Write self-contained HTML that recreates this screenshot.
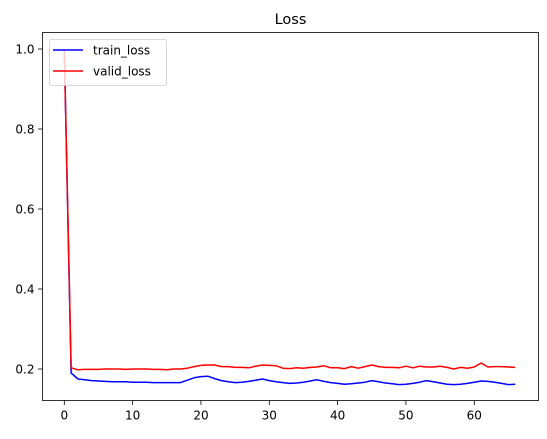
<!DOCTYPE html>
<html><head><meta charset="utf-8"><style>
body{margin:0;background:#fff;font-family:"DejaVu Sans","Liberation Sans",sans-serif;}
svg text{font-family:"DejaVu Sans","Liberation Sans",sans-serif;}
</style></head><body>
<svg width="547" height="435" xmlns="http://www.w3.org/2000/svg">
<g id="plot"></g>
</svg>
<script>
const epochs = Array.from({length:67},(_,i)=>i);
const trainLoss = [1.0,0.19,0.175,0.173,0.171,0.17,0.169,0.168,0.168,0.168,0.167,0.167,0.167,0.166,0.166,0.166,0.166,0.166,0.172,0.178,0.181,0.182,0.176,0.171,0.168,0.166,0.167,0.169,0.172,0.175,0.171,0.168,0.166,0.164,0.165,0.167,0.17,0.173,0.169,0.166,0.164,0.162,0.163,0.165,0.167,0.171,0.168,0.165,0.163,0.161,0.162,0.164,0.167,0.171,0.168,0.165,0.162,0.161,0.162,0.164,0.167,0.17,0.169,0.167,0.164,0.161,0.162];
const validLoss = [1.0,0.203,0.198,0.199,0.199,0.199,0.2,0.2,0.2,0.199,0.2,0.2,0.2,0.199,0.199,0.198,0.2,0.2,0.202,0.206,0.209,0.21,0.21,0.206,0.206,0.204,0.204,0.203,0.207,0.21,0.209,0.208,0.202,0.201,0.203,0.202,0.204,0.205,0.208,0.203,0.203,0.201,0.206,0.202,0.206,0.21,0.206,0.204,0.204,0.203,0.207,0.203,0.207,0.205,0.205,0.207,0.204,0.2,0.204,0.202,0.205,0.215,0.205,0.206,0.206,0.205,0.204];
const xTicks = [0,10,20,30,40,50,60];
const yTicks = [0.2,0.4,0.6,0.8,1.0];
const yTickLabels = ["0.2","0.4","0.6","0.8","1.0"];

const NS="http://www.w3.org/2000/svg";
const g=document.getElementById('plot');
const L=42.5,R=538.5,T=32.5,B=400.5;
const sx=v=>64.3+v*6.833;
const sy=v=>369-(v-0.2)*400;
function mk(t,a){const e=document.createElementNS(NS,t);for(const k in a)e.setAttribute(k,a[k]);g.appendChild(e);return e;}

const title=mk('text',{x:(L+R)/2,y:24,'text-anchor':'middle','font-size':14.5,fill:'#000'});
title.textContent='Loss';



xTicks.forEach(v=>{
  const x=sx(v);
  const t=mk('line',{x1:x,x2:x,y1:B,y2:B+4.5,stroke:'#000','stroke-width':0.8});
  
  
  const l=mk('text',{x:x,y:B+19,'text-anchor':'middle','font-size':12,fill:'#000'});
  l.textContent=String(v);
  
  
});
yTicks.forEach((v,i)=>{
  const y=sy(v);
  const t=mk('line',{x1:L-4.5,x2:L,y1:y,y2:y,stroke:'#000','stroke-width':0.8});
  
  
  const l=mk('text',{x:L-8,y:y+4.5,'text-anchor':'end','font-size':12,fill:'#000'});
  l.textContent=yTickLabels[i];
  
  
});

function series(vals,color,name){
  const p=mk('polyline',{points:vals.map((v,i)=>sx(epochs[i])+','+sy(v)).join(' '),fill:'none',stroke:color,'stroke-width':1.5,'stroke-linejoin':'round'});
  
  
}
series(trainLoss,'#0000ff','train-loss-line');
series(validLoss,'#ff0000','valid-loss-line');

const frame=mk('rect',{x:L,y:T,width:R-L,height:B-T,fill:'none',stroke:'#000','stroke-width':0.8});



const lg=mk('rect',{x:49.5,y:39.5,width:117,height:46,rx:2,fill:'#fff','fill-opacity':0.8,stroke:'#ccc','stroke-width':0.8});


[['train_loss','#0000ff',50],['valid_loss','#ff0000',71]].forEach(([n,c,y])=>{
  const ln=mk('line',{x1:53,x2:83,y1:y,y2:y,stroke:c,'stroke-width':1.5});
  
  
  const tx=mk('text',{x:93,y:y+4.5,'font-size':12,fill:'#000'});
  tx.textContent=n;
  
  
});
</script>
</body></html>
